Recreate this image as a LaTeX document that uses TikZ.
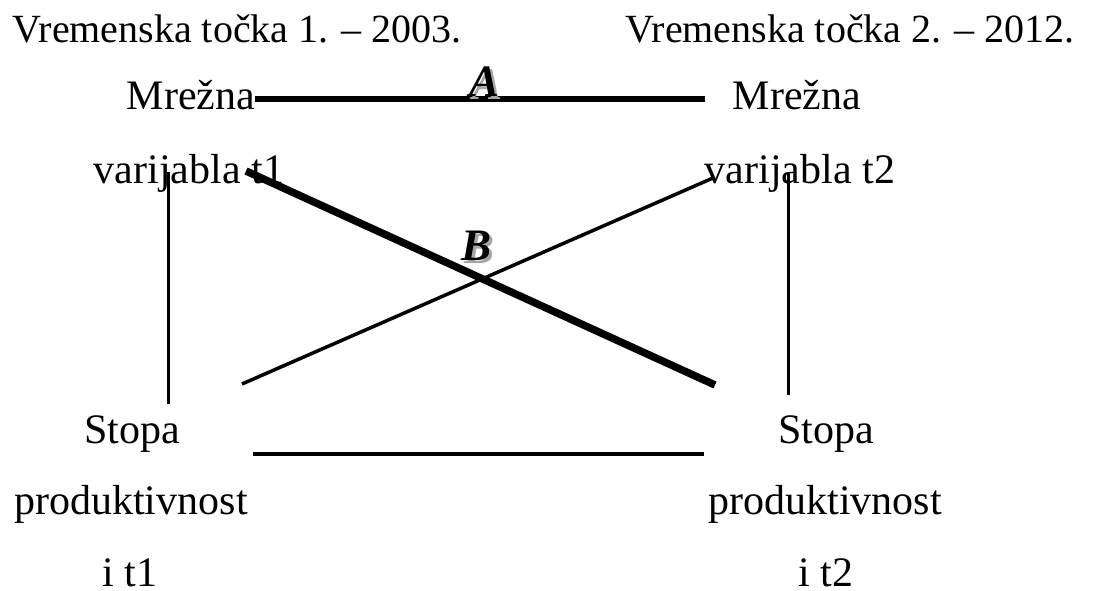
\documentclass[tikz,border=0pt]{standalone}
\usepackage{fontspec}
\setmainfont{Liberation Serif}
\usepackage{tikz}
\usetikzlibrary{positioning}
\definecolor{shGray}{RGB}{165,165,165}

\begin{document}
\begin{tikzpicture}[x=1pt, y=-1pt, every node/.style={anchor=base, inner sep=0pt, font=\fontsize{42}{50}\selectfont}, lettr/.style={font=\fontsize{45}{50}\selectfont\bfseries\itshape}]
  \useasboundingbox (0,0) rectangle (1097,591);
  \node[anchor=base west, font=\fontsize{40}{48}\selectfont] (t1) at (12,43) {Vremenska točka 1. – 2003.};
  \node[anchor=base west, font=\fontsize{40}{48}\selectfont] (t2) at (625,43) {Vremenska točka 2. – 2012.};
  \node (mL) at (191,110) {Mrežna};
  \node (vL) at (189,183) {varijabla t1};
  \node (mR) at (797,110) {Mrežna};
  \node (vR) at (800,183) {varijabla t2};
  \node (sL) at (132,443) {Stopa};
  \node (pL) at (131,514) {produktivnost};
  \node (iL) at (130,586) {i t1};
  \node (sR) at (826,443) {Stopa};
  \node (pR) at (825,514) {produktivnost};
  \node (iR) at (826,586) {i t2};
  \coordinate (aS) at (255,99);
  \coordinate (aE) at (705,99);
  \coordinate (bS) at (246,171);
  \coordinate (bE) at (715,385);
  \coordinate (cS) at (242,384);
  \coordinate (cE) at (713,178);
  \coordinate (lT) at (168,172);
  \coordinate (lB) at (168,404);
  \coordinate (rT) at (788,172);
  \coordinate (rB) at (788,395);
  \coordinate (dS) at (253,454);
  \coordinate (dE) at (704,454);
  \draw[line width=6.5pt] (aS) -- (aE);
  \draw[line width=7.5pt] (bS) -- (bE);
  \draw[line width=3.5pt] (cS) -- (cE);
  \draw[line width=3pt] (lT) -- (lB);
  \draw[line width=3pt] (rT) -- (rB);
  \draw[line width=3.5pt] (dS) -- (dE);
  \node[lettr, shGray] (aSh) at (488,100) {A};
  \node[lettr] (aLbl) at (485,97) {A};
  \node[lettr, shGray] (bSh) at (480,263) {B};
  \node[lettr] (bLbl) at (477,260) {B};
\end{tikzpicture}
\end{document}
